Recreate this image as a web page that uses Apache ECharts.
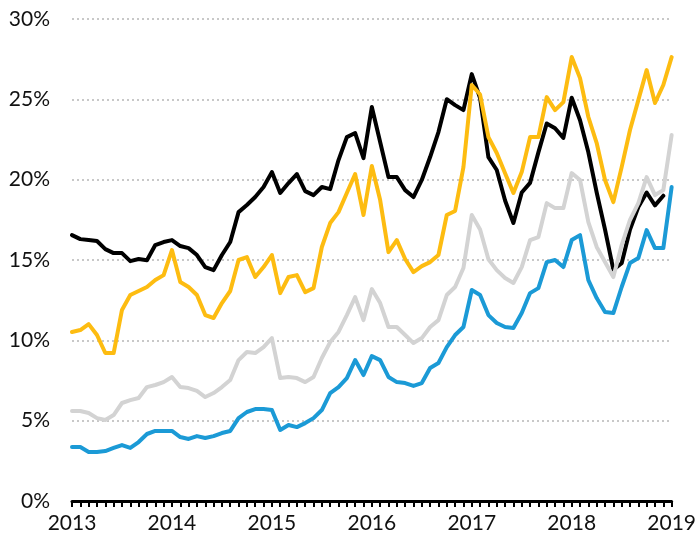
<!DOCTYPE html>
<html><head><meta charset="utf-8">
<script src="https://cdn.jsdelivr.net/npm/echarts@6/dist/echarts.min.js"></script>
<style>html,body{margin:0;padding:0;background:#fff}#c{width:699px;height:540px}</style>
</head><body><div id="c"></div>
<script>
const years = ['2013','2014','2015','2016','2017','2018','2019'];
const yTicks = [0, 5, 10, 15, 20, 25, 30];
const black = [16.55,16.3,16.24,16.18,15.68,15.43,15.43,14.93,15.06,14.99,15.93,16.12,
  16.24,15.87,15.74,15.31,14.56,14.37,15.31,16.12,17.98,18.42,18.92,19.54,
  20.47,19.17,19.79,20.35,19.29,19.04,19.54,19.41,21.22,22.65,22.9,21.34,
  24.52,22.34,20.16,20.16,19.35,18.92,19.98,21.41,22.96,25.01,24.64,24.33,
  26.57,25.08,21.4,20.6,18.7,17.3,19.2,19.8,21.7,23.5,23.2,22.6,
  25.1,23.7,21.7,19.2,16.9,14.4,14.8,16.9,18.3,19.2,18.4,19.0,null];
const yellow = [10.52,10.64,11.01,10.33,9.21,9.21,11.89,12.82,13.07,13.32,13.75,14.06,
  15.62,13.63,13.32,12.82,11.57,11.39,12.32,13.07,15.0,15.18,13.94,14.56,
  15.31,12.94,13.94,14.06,13.0,13.25,15.81,17.3,17.98,19.17,20.35,17.8,
  20.85,18.73,15.49,16.24,15.06,14.25,14.62,14.87,15.31,17.8,18.05,20.78,
  25.89,25.3,22.65,21.66,20.4,19.17,20.47,22.65,22.65,25.14,24.33,24.83,
  27.63,26.32,23.9,22.28,19.98,18.6,20.78,23.09,24.95,26.82,24.77,25.89,27.63];
const gray = [5.6,5.6,5.48,5.16,5.04,5.35,6.1,6.28,6.41,7.09,7.22,7.4,
  7.72,7.09,7.03,6.85,6.47,6.72,7.09,7.53,8.77,9.27,9.21,9.58,
  10.14,7.65,7.72,7.65,7.4,7.72,8.9,9.89,10.52,11.57,12.69,11.26,
  13.19,12.32,10.83,10.83,10.33,9.83,10.14,10.83,11.26,12.82,13.32,14.5,
  17.8,16.9,15.05,14.37,13.88,13.57,14.56,16.24,16.43,18.54,18.23,18.23,
  20.41,19.98,17.36,15.81,14.87,13.94,15.93,17.49,18.54,20.16,19.04,19.35,22.78];
const blue = [3.36,3.36,3.05,3.05,3.11,3.3,3.48,3.3,3.67,4.17,4.36,4.36,
  4.36,3.98,3.86,4.04,3.92,4.04,4.23,4.36,5.16,5.54,5.72,5.72,
  5.66,4.42,4.73,4.6,4.85,5.16,5.66,6.72,7.09,7.65,8.77,7.84,
  9.02,8.77,7.72,7.4,7.34,7.16,7.34,8.28,8.59,9.58,10.33,10.83,
  13.13,12.82,11.57,11.08,10.83,10.77,11.7,12.94,13.25,14.87,15.0,14.56,
  16.24,16.55,13.75,12.63,11.76,11.7,13.32,14.81,15.12,16.86,15.74,15.74,19.54];

const months = [];
years.forEach((y, i) => {
  const n = i === years.length - 1 ? 1 : 12;
  for (let m = 1; m <= n; m++) months.push(y + '-' + String(m).padStart(2, '0'));
});

const chart = echarts.init(document.getElementById('c'), null, {renderer: 'canvas'});
const mk = (name, data, color) => ({
  name, type: 'line', data, symbol: 'none', smooth: false,
  lineStyle: {color, width: 4, join: 'round', cap: 'round'},
  connectNulls: false, animation: false
});
chart.setOption({
  animation: false,
  grid: {left: 72, right: 27, top: 19, bottom: 39, containLabel: false},
  xAxis: {
    type: 'category', data: months, boundaryGap: false,
    axisLine: {lineStyle: {color: '#000', width: 3}},
    axisTick: {show: true, interval: 0, length: 6, lineStyle: {color: '#000', width: 2}},
    axisLabel: {
      interval: 11, margin: 12, color: '#111', fontFamily: 'Lato', fontSize: 21,
      formatter: v => v.slice(0, 4)
    },
    splitLine: {show: false}
  },
  yAxis: {
    type: 'value', min: yTicks[0], max: yTicks[yTicks.length - 1], interval: 5,
    axisLine: {show: false}, axisTick: {show: false},
    axisLabel: {margin: 22, color: '#111', fontFamily: 'Lato', fontSize: 21, formatter: v => v + '%'},
    splitLine: {show: true, lineStyle: {color: '#c8c8c8', width: 2, type: [2, 3]}}
  },
  series: [
    mk('Black', black, '#000000'),
    mk('Yellow', yellow, '#fdbc11'),
    mk('Gray', gray, '#d3d3d3'),
    mk('Blue', blue, '#1b9ad6')
  ]
});
</script></body></html>
